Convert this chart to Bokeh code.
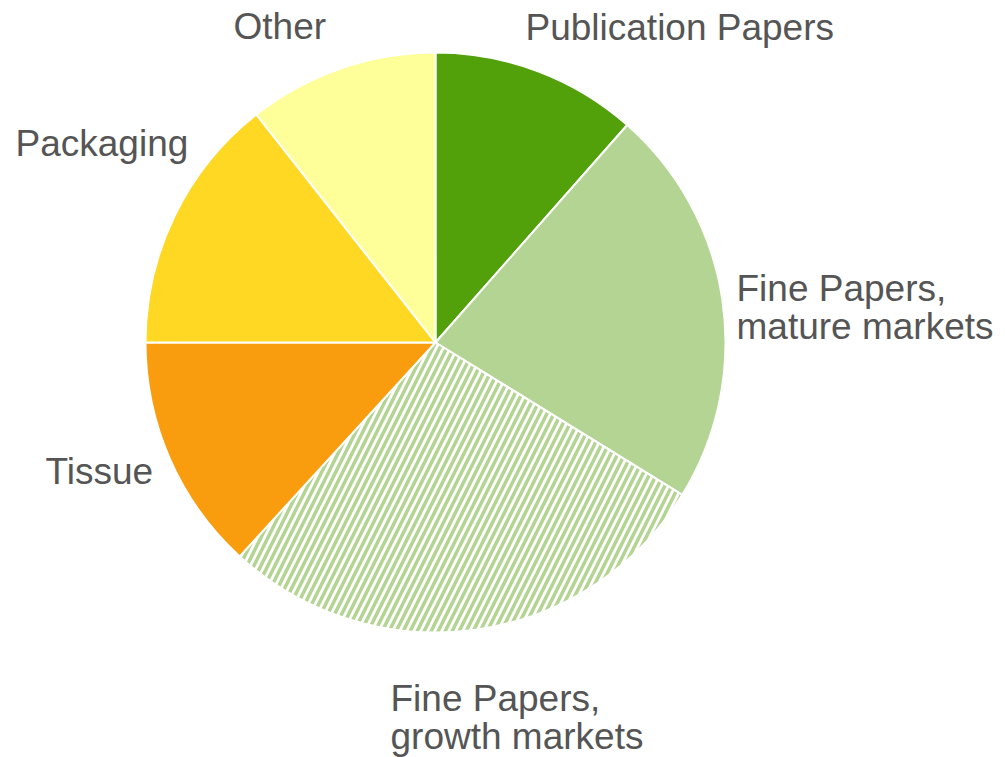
import math
from bokeh.plotting import figure
from bokeh.models import Range1d, ColumnDataSource
from bokeh.core.properties import value
from bokeh.embed import file_html
from bokeh.resources import INLINE

# ---- data ----
categories = ["Publication Papers", "Fine Papers,\nmature markets", "Fine Papers,\ngrowth markets",
              "Tissue", "Packaging", "Other"]
shares = [11.5, 22.3, 28.0, 13.2, 14.4, 10.6]

# ---- styles / layout ----
colors = ["#52a00a", "#b3d493", "#ffffff", "#f99d0e", "#ffd824", "#ffff99"]
hatches = [" ", " ", "/", " ", " ", " "]
W, H = 1005, 757
cx, cy, r = 435, H - 342, 290
# label anchor (left x, middle y of first line in screen pixels)
label_pos = [(525, 27), (736, 288), (390, 698), (45, 471), (15, 143), (233, 26)]
line_h = 38
font = "Liberation Sans"
text_color = "#555555"

total = sum(shares)
starts, ends = [], []
cum = 0.0
for s in shares:
    starts.append(math.pi / 2 - cum / total * 2 * math.pi)
    cum += s
    ends.append(math.pi / 2 - cum / total * 2 * math.pi)

p = figure(width=W, height=H, x_range=Range1d(0, W), y_range=Range1d(0, H),
           output_backend="svg", toolbar_location=None, min_border=0)
p.axis.visible = False
p.grid.visible = False
p.outline_line_color = None
p.background_fill_color = "white"
p.border_fill_color = "white"

src = ColumnDataSource(dict(start=starts, end=ends, color=colors, hatch=hatches, cat=categories))
p.wedge(x=cx, y=cy, radius=r, start_angle="start", end_angle="end", direction="clock",
        fill_color="color", line_color="white", line_width=2, hatch_pattern="hatch",
        hatch_color="#b3d493", hatch_scale=14, hatch_weight=3.5, source=src)

xs, ys, txt = [], [], []
for cat, (lx, ly) in zip(categories, label_pos):
    for i, line in enumerate(cat.split("\n")):
        xs.append(lx)
        ys.append(H - (ly + i * line_h))
        txt.append(line)
p.text(x=xs, y=ys, text=txt, text_font=value(font), text_font_size="37px",
       text_color=text_color, text_align="left", text_baseline="middle")

open("out.html", "w").write(file_html(p, INLINE))
